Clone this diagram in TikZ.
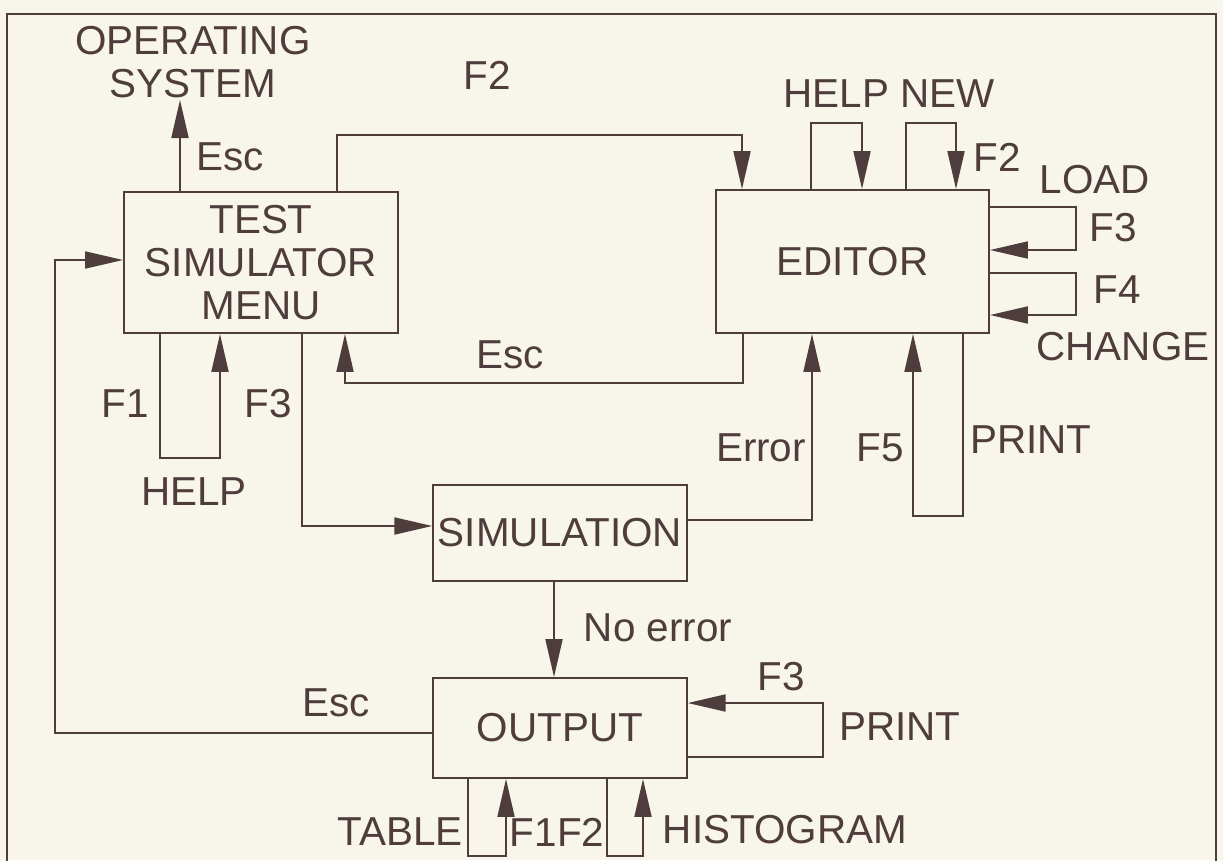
\documentclass[tikz,border=0pt]{standalone}
\usepackage{fontspec}
\setmainfont{Liberation Sans}
\usetikzlibrary{arrows.meta}
\definecolor{ink}{HTML}{4F3D3D}
\definecolor{paper}{HTML}{F8F5EA}

\begin{document}
\begin{tikzpicture}[font=\fontsize{23}{24.5}\selectfont,
    box/.style={draw=ink,line width=1.1pt,minimum width=5.07cm,inner sep=0pt,
                align=center,text=ink},
    lbl/.style={inner sep=0pt,text=ink,align=center},
    flow/.style={-{Triangle[length=0.76cm,width=0.34cm]},line width=1.1pt,ink},
    wire/.style={line width=1.1pt,ink}]
  \useasboundingbox (0,0) rectangle (24.46,-17.2);
  \fill[paper] (0,0) rectangle (24.46,-17.2);
  \draw[wire] (0.14,-17.4) -- (0.14,-0.28) -- (24.32,-0.28) -- (24.32,-17.4);

  % the four screens
  \node[box,minimum width=5.48cm,minimum height=2.82cm] (menu) at (5.22,-5.25)
       {TEST\\SIMULATOR\\MENU};
  \node[box,minimum width=5.46cm,minimum height=2.86cm] (editor) at (17.05,-5.23) {EDITOR};
  \node[box,minimum height=1.92cm] (sim) at (11.2,-10.66) {SIMULATION};
  \node[box,minimum height=2cm] (out) at (11.2,-14.56) {OUTPUT};

  % bends
  \coordinate (osin) at (3.6,-2.0);
  \coordinate (f2a) at (6.74,-2.7);   \coordinate (f2b) at (14.84,-2.7);
  \coordinate (hl) at (16.22,-2.46);  \coordinate (hr) at (17.24,-2.46);
  \coordinate (nl) at (18.12,-2.46);  \coordinate (nr) at (19.12,-2.46);
  \coordinate (ld1) at (21.52,-4.14); \coordinate (ld2) at (21.52,-5.0);
  \coordinate (ch1) at (21.52,-5.46); \coordinate (ch2) at (21.52,-6.3);
  \coordinate (pr1) at (19.26,-10.32);\coordinate (pr2) at (18.26,-10.32);
  \coordinate (ex1) at (14.86,-7.66); \coordinate (ex2) at (6.9,-7.66);
  \coordinate (er) at (16.24,-10.4);
  \coordinate (mh1) at (3.2,-9.16);   \coordinate (mh2) at (4.4,-9.16);
  \coordinate (ms) at (6.04,-10.52);
  \coordinate (fb1) at (1.1,-14.66);  \coordinate (fb2) at (1.1,-5.2);
  \coordinate (ne) at (11.08,-12.6);
  \coordinate (op1) at (16.46,-15.14);\coordinate (op2) at (16.46,-14.06);
  \coordinate (tb1) at (9.36,-17.12); \coordinate (tb2) at (10.12,-17.12);
  \coordinate (hg1) at (12.14,-17.12);\coordinate (hg2) at (12.86,-17.12);

  % menu
  \draw[flow] (menu.north -| osin) -- (osin);
  \draw[flow] (menu.north -| f2a) -- (f2a) -- (f2b) -- (editor.north -| f2b);
  \draw[flow] (menu.south -| mh1) -- (mh1) -- (mh2) -- (menu.south -| mh2);
  \draw[flow] (menu.south -| ms) -- (ms) -- (sim.west |- ms);
  % editor
  \foreach \a/\b in {hl/hr,nl/nr}
    \draw[flow] (editor.north -| \a) -- (\a) -- (\b) -- (editor.north -| \b);
  \foreach \a/\b in {ld1/ld2,ch1/ch2}
    \draw[flow] (editor.east |- \a) -- (\a) -- (\b) -- (editor.east |- \b);
  \draw[flow] (editor.south -| pr1) -- (pr1) -- (pr2) -- (editor.south -| pr2);
  \draw[flow] (editor.south -| ex1) -- (ex1) -- (ex2) -- (menu.south -| ex2);
  % simulation and output
  \draw[flow] (sim.east |- er) -- (er) -- (editor.south -| er);
  \draw[flow] (sim.south -| ne) -- (out.north -| ne);
  \draw[flow] (out.west |- fb1) -- (fb1) -- (fb2) -- (menu.west |- fb2);
  \draw[flow] (out.east |- op1) -- (op1) -- (op2) -- (out.east |- op2);
  \foreach \a/\b in {tb1/tb2,hg1/hg2}
    \draw[flow] (out.south -| \a) -- (\a) -- (\b) -- (out.south -| \b);

  % key labels
  \node[lbl] (os) at (3.86,-1.24) {OPERATING\\SYSTEM};
  \node[lbl] (esca) at (4.6,-3.14) {Esc};
  \node[lbl] (f2m) at (9.74,-1.5) {F2};
  \node[lbl] (f1m) at (2.5,-8.08) {F1};
  \node[lbl] (f3m) at (5.36,-8.08) {F3};
  \node[lbl] (helpm) at (3.88,-9.84) {HELP};
  \node[lbl] (escb) at (10.2,-7.1) {Esc};
  \node[lbl] (helpnew) at (17.78,-1.88) {HELP NEW};
  \node[lbl] (f2e) at (19.94,-3.14) {F2};
  \node[lbl] (load) at (21.9,-3.6) {LOAD};
  \node[lbl] (f3e) at (22.26,-4.56) {F3};
  \node[lbl] (f4e) at (22.34,-5.8) {F4};
  \node[lbl] (change) at (22.46,-6.94) {CHANGE};
  \node[lbl] (err) at (15.22,-8.96) {Error};
  \node[lbl] (f5e) at (17.6,-8.96) {F5};
  \node[lbl] (prte) at (20.62,-8.8) {PRINT};
  \node[lbl] (noerr) at (13.16,-12.56) {No error};
  \node[lbl] (escc) at (6.72,-14.06) {Esc};
  \node[lbl] (f3o) at (15.62,-13.54) {F3};
  \node[lbl] (prto) at (18.0,-14.54) {PRINT};
  \node[lbl] (table) at (8.0,-16.64) {TABLE};
  \node[lbl] (f1f2) at (11.14,-16.64) {F1F2};
  \node[lbl] (hist) at (15.7,-16.6) {HISTOGRAM};
\end{tikzpicture}
\end{document}
